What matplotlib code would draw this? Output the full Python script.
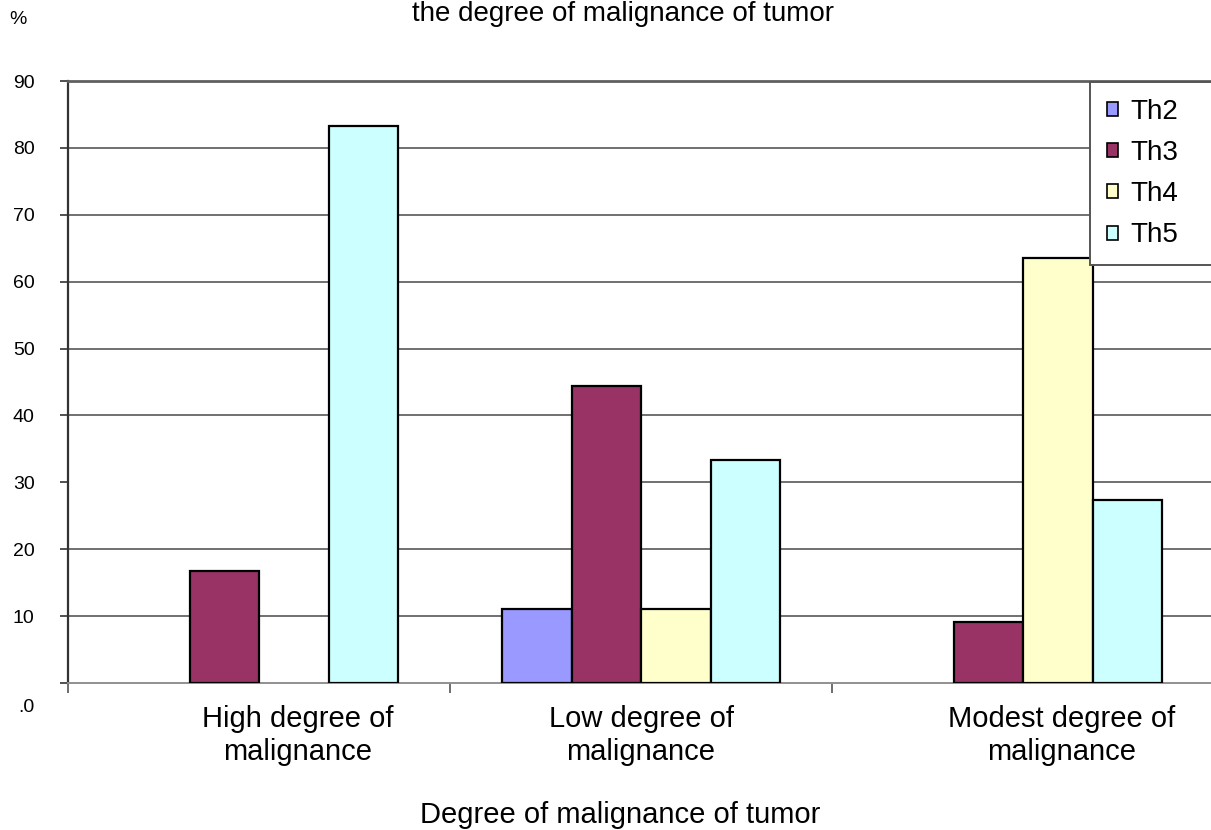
import numpy as np
import matplotlib
matplotlib.use("Agg")
import matplotlib.pyplot as plt
from matplotlib.patches import Patch
from matplotlib.transforms import ScaledTranslation

plt.rcParams['font.family'] = ['Liberation Sans', 'DejaVu Sans']

categories = ["High degree of\nmalignance", "Low degree of\nmalignance",
              "Modest degree of\nmalignance"]
series = ["Th2", "Th3", "Th4", "Th5"]
th2 = [0.0, 11.1, 0.0]
th3 = [16.7, 44.4, 9.1]
th4 = [0.0, 11.1, 63.6]
th5 = [83.3, 33.3, 27.3]
colors = ["#9999FF", "#993366", "#FFFFCC", "#CCFFFF"]
yticks = [0, 10, 20, 30, 40, 50, 60, 70, 80, 90]
ytick_labels = [".0", "10", "20", "30", "40", "50", "60", "70", "80", "90"]
label_shift = [0.1, 0.0, 0.1]

fig = plt.figure(figsize=(12.11, 8.30), dpi=100)
ax = fig.add_axes([0.0562, 0.1771, 0.9463, 0.7253])

x = np.arange(len(categories))
width = 0.182
for i, (name, vals) in enumerate(zip(series, [th2, th3, th4, th5])):
    pos = x + (i - 1.5) * width
    vals = np.array(vals)
    keep = vals > 0
    ax.bar(pos[keep], vals[keep], width, color=colors[i], edgecolor="black",
           linewidth=1.6, zorder=3)

ax.set_xlim(-0.5, 2.5)
ax.set_ylim(0, 90)

# horizontal gridlines (the 30 line only runs over the right half)
for yv in yticks[1:]:
    xmin = 0.5 if yv == 30 else 0.0
    ax.axhline(yv, xmin=xmin, color="#707070", linewidth=1.4, zorder=1)

ax.set_yticks(yticks)
ax.set_yticklabels(ytick_labels, fontsize=14)
ax.tick_params(axis="y", length=6, width=1.2, pad=18, colors="#333333",
               labelcolor="black")
zero_lbl = ax.get_yticklabels()[0]
zero_lbl.set_transform(zero_lbl.get_transform() +
                       ScaledTranslation(0, -0.22, fig.dpi_scale_trans))

# category separators as tick marks, labels as text
ax.set_xticks([-0.5, 0.5, 1.5, 2.5])
ax.set_xticklabels([])
ax.tick_params(axis="x", length=7, width=1.2, colors="#555555")
for xi, lab, sh in zip(x, categories, label_shift):
    ax.text(xi + sh, -3.3, lab, ha="center", va="top", fontsize=21,
            linespacing=1.22)

ax.spines["right"].set_visible(False)
ax.spines["left"].set_color("#333333")
ax.spines["left"].set_linewidth(1.6)
ax.spines["bottom"].set_color("#909090")
ax.spines["bottom"].set_linewidth(1.4)
ax.spines["top"].set_color("#606060")
ax.spines["top"].set_linewidth(2.0)

handles = [Patch(facecolor=c, edgecolor="black", linewidth=1.2, label=s)
           for c, s in zip(colors, series)]
leg = ax.legend(handles=handles, loc="upper left", mode="expand",
                bbox_to_anchor=(1090 / 1211, 1 - 265 / 830, 140 / 1211, 183 / 830),
                bbox_transform=fig.transFigure, fontsize=20, frameon=True,
                fancybox=False, framealpha=1.0, handlelength=0.4,
                handleheight=0.4, handletextpad=0.45, labelspacing=0.55,
                borderpad=0.6, borderaxespad=0)
leg.get_frame().set_edgecolor("#555555")
leg.get_frame().set_linewidth(1.4)

fig.text(623 / 1211, 1 - 21 / 830, "the degree of malignance of tumor",
         ha="center", va="baseline", fontsize=20)
fig.text(18 / 1211, 1 - 20 / 830, "%", ha="center", va="center", fontsize=14)
fig.text(620 / 1211, 1 - 815 / 830, "Degree of malignance of tumor",
         ha="center", va="center", fontsize=21)

fig.savefig("out.png", dpi=100)
